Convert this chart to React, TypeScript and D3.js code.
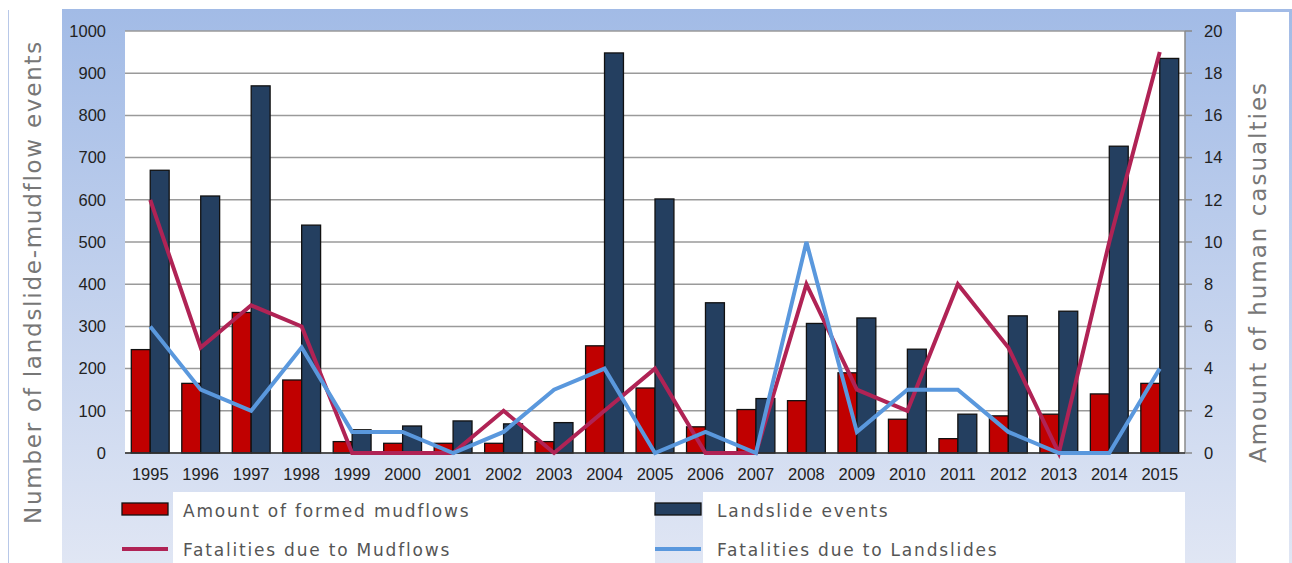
import React from "react";
import * as d3 from "d3";

const years = ["1995","1996","1997","1998","1999","2000","2001","2002","2003","2004","2005","2006","2007","2008","2009","2010","2011","2012","2013","2014","2015"];
const mudflows = [245,165,333,173,27,23,23,23,27,254,154,62,103,124,190,80,34,88,92,140,165];
const landslides = [670,609,870,540,55,64,76,69,72,948,602,356,129,307,320,246,92,325,336,727,935];
const fatalMud = [12,5,7,6,0,0,0,2,0,2,4,0,0,8,3,2,8,5,0,10,19];
const fatalLand = [6,3,2,5,1,1,0,1,3,4,0,1,0,10,1,3,3,1,0,0,4];
const leftTicks = [0,100,200,300,400,500,600,700,800,900,1000];
const rightTicks = [0,2,4,6,8,10,12,14,16,18,20];

const W = 1292, H = 563;
const plot = { l: 125, r: 1185, t: 31, b: 453 };

export default function App() {
  const x = d3.scaleBand<string>().domain(years).range([plot.l, plot.r]).paddingInner(0).paddingOuter(0);
  const yL = d3.scaleLinear().domain([0, 1000]).range([plot.b, plot.t]);
  const yR = d3.scaleLinear().domain([0, 20]).range([plot.b, plot.t]);
  const bw = x.bandwidth() * 0.375;
  const cx = (y: string) => (x(y) as number) + x.bandwidth() / 2;
  const lineMud = d3.line<number>().x((_, i) => cx(years[i])).y(d => yR(d));
  const tickFont = "'Liberation Sans', Arial, sans-serif";
  const txtFont = "'DejaVu Sans', sans-serif";
  return (
    <svg width={W} height={H} style={{ position: "absolute", left: 0, top: 0 }}>
      <defs>
        <linearGradient id="bg" x1="0" y1="0" x2="0" y2="1">
          <stop offset="0" stopColor="#a2bbe6" />
          <stop offset="1" stopColor="#e0e6f4" />
        </linearGradient>
      </defs>
      <rect x={0} y={0} width={W} height={H} fill="#fff" />
      <rect x={62} y={9} width={W - 62} height={H - 9} fill="url(#bg)" />
      <rect x={1236} y={12} width={53} height={H - 12} fill="#fff" />
      <line x1={8.5} x2={8.5} y1={10} y2={H} stroke="#b8c8e8" strokeWidth={1} />
      <rect x={plot.l} y={plot.t} width={plot.r - plot.l} height={plot.b - plot.t} fill="#fff" />
      {leftTicks.map(t => (
        <line key={"g" + t} x1={plot.l} x2={plot.r} y1={yL(t)} y2={yL(t)} stroke="#9a9a9a" strokeWidth={1.5} />
      ))}
      {leftTicks.map(t => (
        <text key={"l" + t} x={106} y={yL(t)} dy="0.35em" textAnchor="end" fontFamily={tickFont} fontSize={16.5} fill="#222">{t}</text>
      ))}
      {rightTicks.map(t => (
        <g key={"r" + t}>
          <line x1={plot.r} x2={plot.r + 7} y1={yR(t)} y2={yR(t)} stroke="#8a8a8a" strokeWidth={1.5} />
          <text x={1204} y={yR(t)} dy="0.35em" fontFamily={tickFont} fontSize={16.5} fill="#222">{t}</text>
        </g>
      ))}
      <line x1={plot.r} x2={plot.r} y1={plot.t} y2={plot.b} stroke="#8a8a8a" strokeWidth={1.5} />
      {years.map((y, i) => (
        <g key={"b" + y}>
          <rect x={cx(y) - bw} y={yL(mudflows[i])} width={bw} height={plot.b - yL(mudflows[i])} fill="#c00000" stroke="#111" strokeWidth={1.3} />
          <rect x={cx(y)} y={yL(landslides[i])} width={bw} height={plot.b - yL(landslides[i])} fill="#243f60" stroke="#111" strokeWidth={1.3} />
          <text x={cx(y)} y={480} textAnchor="middle" fontFamily={tickFont} fontSize={16.5} fill="#222">{y}</text>
        </g>
      ))}
      <line x1={plot.l} x2={plot.r} y1={plot.b} y2={plot.b} stroke="#333" strokeWidth={1.5} />
      <path d={lineMud(fatalMud) || ""} fill="none" stroke="#b02355" strokeWidth={4} strokeLinejoin="miter" />
      <path d={lineMud(fatalLand) || ""} fill="none" stroke="#5a98dd" strokeWidth={4} strokeLinejoin="miter" />
      <rect x={173} y={492} width={482} height={H - 492} fill="#fff" />
      <rect x={703} y={492} width={482} height={H - 492} fill="#fff" />
      <rect x={122} y={503} width={46} height={12} fill="#c00000" stroke="#111" strokeWidth={1.3} />
      <text x={183} y={517} fontFamily={txtFont} fontSize={17} letterSpacing={1.8} fill="#555">Amount of formed mudflows</text>
      <line x1={122} x2={168} y1={549} y2={549} stroke="#b02355" strokeWidth={4} />
      <text x={183} y={556} fontFamily={txtFont} fontSize={17} letterSpacing={1.8} fill="#555">Fatalities due to Mudflows</text>
      <rect x={655} y={503} width={46} height={12} fill="#243f60" stroke="#111" strokeWidth={1.3} />
      <text x={717} y={517} fontFamily={txtFont} fontSize={17} letterSpacing={1.8} fill="#555">Landslide events</text>
      <line x1={655} x2={701} y1={549} y2={549} stroke="#5a98dd" strokeWidth={4} />
      <text x={717} y={556} fontFamily={txtFont} fontSize={17} letterSpacing={1.8} fill="#555">Fatalities due to Landslides</text>
      <text transform="translate(41,282) rotate(-90)" textAnchor="middle" fontFamily={txtFont} fontSize={23} letterSpacing={1.75} fill="#777">Number of landslide-mudflow events</text>
      <text transform="translate(1266,272) rotate(-90)" textAnchor="middle" fontFamily={txtFont} fontSize={23} letterSpacing={2} fill="#777">Amount of human casualties</text>
    </svg>
  );
}
